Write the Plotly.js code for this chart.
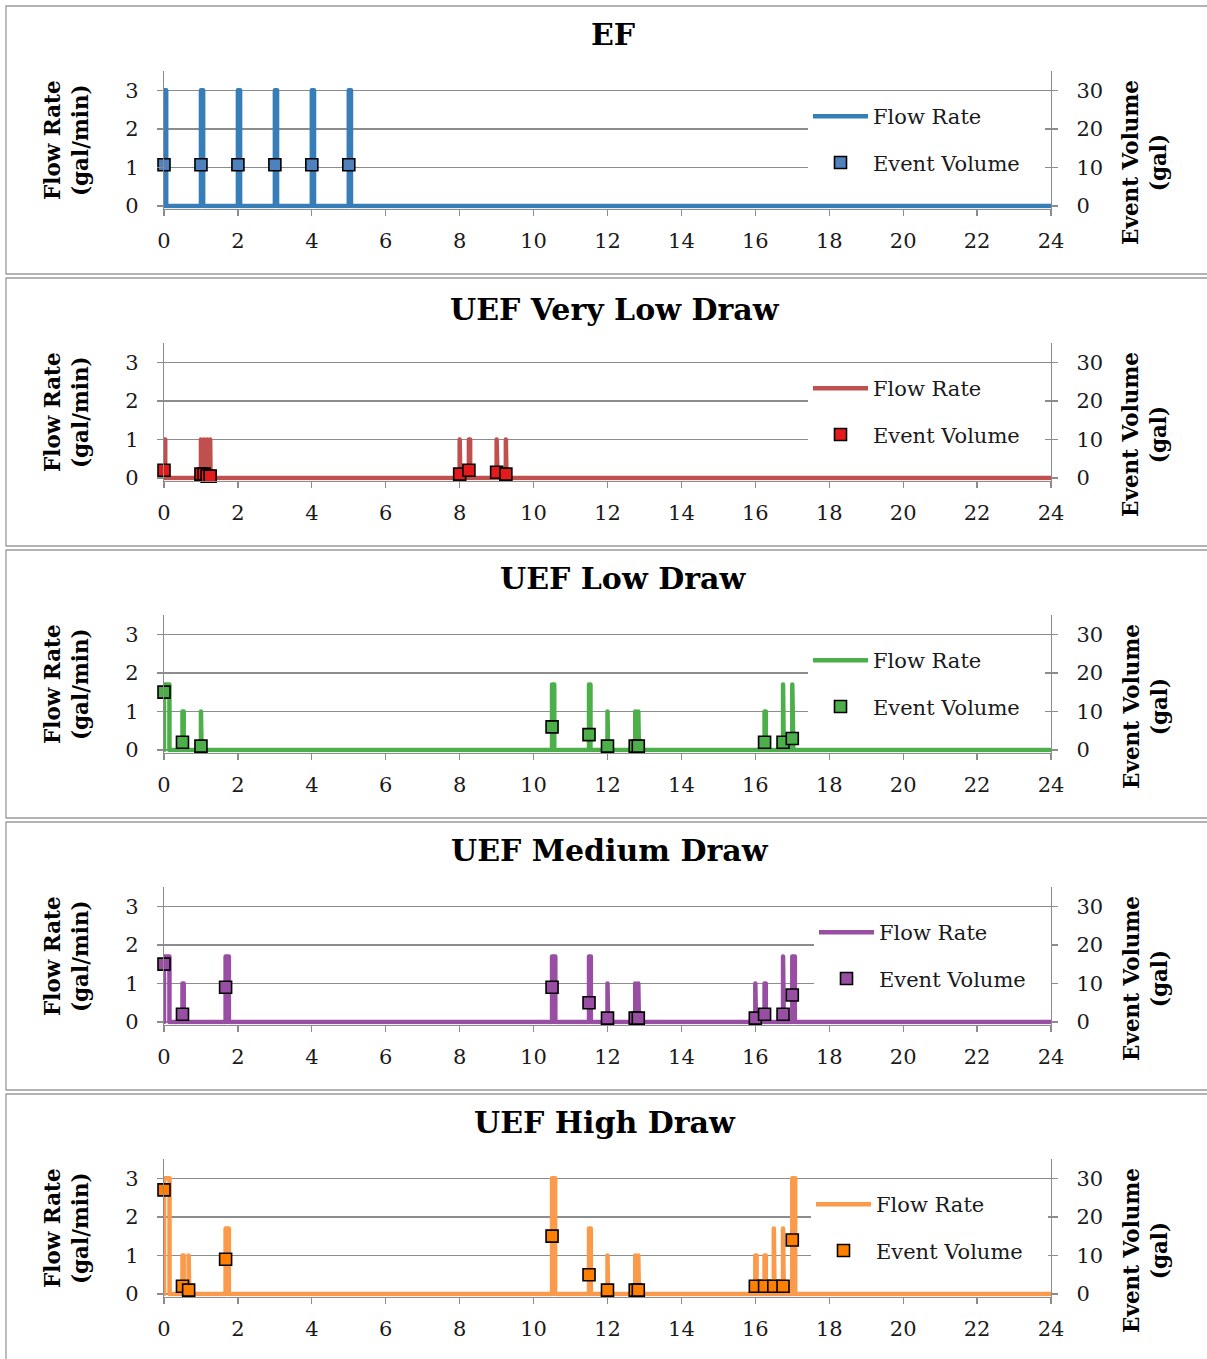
<!DOCTYPE html>
<html>
<head>
<meta charset="utf-8">
<script src="https://cdn.plot.ly/plotly-3.0.1.min.js"></script>
<style>
html,body{margin:0;padding:0;background:#fff;}
#chart{width:1207px;height:1359px;}
.scatterlayer .js-line{stroke-linejoin:round;stroke-linecap:round;}
</style>
</head>
<body>
<div id="chart"></div>
<script>
// ---------- DATA ----------
const panelTitles = ['EF', 'UEF Very Low Draw', 'UEF Low Draw', 'UEF Medium Draw', 'UEF High Draw'];
const hourTicks = [0, 2, 4, 6, 8, 10, 12, 14, 16, 18, 20, 22, 24];
const flowTicks = [0, 1, 2, 3];
const volumeTicks = [0, 10, 20, 30];

// draw start time (h), event volume (gal), flow rate (gal/min)
const efStart  = [0, 1, 2, 3, 4, 5];
const efVolume = [10.7, 10.7, 10.7, 10.7, 10.7, 10.7];
const efRate   = [3, 3, 3, 3, 3, 3];

const vlStart  = [0, 1.0, 1.0833, 1.1667, 1.25, 8.0, 8.25, 9.0, 9.25];
const vlVolume = [2.0, 1.0, 1.0, 0.5, 0.5, 1.0, 2.0, 1.5, 1.0];
const vlRate   = [1, 1, 1, 1, 1, 1, 1, 1, 1];

const loStart  = [0, 0.5, 1.0, 10.5, 11.5, 12.0, 12.75, 12.8333, 16.25, 16.75, 17.0];
const loVolume = [15.0, 2.0, 1.0, 6.0, 4.0, 1.0, 1.0, 1.0, 2.0, 2.0, 3.0];
const loRate   = [1.7, 1.0, 1.0, 1.7, 1.7, 1.0, 1.0, 1.0, 1.0, 1.7, 1.7];

const mdStart  = [0, 0.5, 1.6667, 10.5, 11.5, 12.0, 12.75, 12.8333, 16.0, 16.25, 16.75, 17.0];
const mdVolume = [15.0, 2.0, 9.0, 9.0, 5.0, 1.0, 1.0, 1.0, 1.0, 2.0, 2.0, 7.0];
const mdRate   = [1.7, 1.0, 1.7, 1.7, 1.7, 1.0, 1.0, 1.0, 1.0, 1.0, 1.7, 1.7];

const hiStart  = [0, 0.5, 0.6667, 1.6667, 10.5, 11.5, 12.0, 12.75, 12.8333, 16.0, 16.25, 16.5, 16.75, 17.0];
const hiVolume = [27.0, 2.0, 1.0, 9.0, 15.0, 5.0, 1.0, 1.0, 1.0, 2.0, 2.0, 2.0, 2.0, 14.0];
const hiRate   = [3.0, 1.0, 1.0, 1.7, 3.0, 1.7, 1.0, 1.0, 1.0, 1.0, 1.0, 1.7, 1.7, 3.0];

const seriesNames = ['Flow Rate', 'Event Volume'];

// ---------- STYLE ----------
const W = 1207, H = 1359;
const fx = p => p / W;
const fy = p => (H - p) / H;
const lineColors   = ['#377EB8', '#C0504D', '#4DAF4A', '#984EA3', '#FA9A4A'];
const markerColors = ['#4F81BD', '#E41A1C', '#4DAF4A', '#984EA3', '#FF7F00'];
const FONT = 'DejaVu Serif';
const GRAY = '#8c8c8c';
const panels = [
  {s: efStart, v: efVolume, r: efRate},
  {s: vlStart, v: vlVolume, r: vlRate},
  {s: loStart, v: loVolume, r: loRate},
  {s: mdStart, v: mdVolume, r: mdRate},
  {s: hiStart, v: hiVolume, r: hiRate}
];
const zeroPx = [206, 478, 750, 1022, 1294];
const pxPerUnit = 38.67;      // flow-axis pixels per gal/min
const padBelow = 2.6;         // px of room below zero so the thick baseline is not clipped
const titleX = [613, 615, 623, 610, 605];
const titleY = [34, 309, 578, 850, 1122];
const legendLeft = [808, 808, 808, 814, 811];
const frameTop = [6, 278, 550, 822, 1094];
const frameBot = [274, 546, 818, 1090, 1366];
const legendPad = '\u00a0\u00a0\u00a0'; // widens the white legend box

function stepLine(starts, vols, rates) {
  const x = [0], y = [0];
  for (let i = 0; i < starts.length; i++) {
    const d = vols[i] / rates[i] / 60; // duration in hours
    x.push(starts[i], starts[i], starts[i] + d, starts[i] + d);
    y.push(0, rates[i], rates[i], 0);
  }
  x.push(24); y.push(0);
  return {x, y};
}

const traces = [];
const layout = {
  width: W, height: H,
  margin: {l: 0, r: 0, t: 0, b: 0},
  paper_bgcolor: '#fff', plot_bgcolor: 'rgba(0,0,0,0)',
  showlegend: true,
  font: {family: FONT, size: 21, color: '#1a1a1a'},
  shapes: [], annotations: []
};

const lowFlow = -padBelow / pxPerUnit;
const lowVol = lowFlow * 10;

panels.forEach((p, i) => {
  const n = i + 1, nr = i + 6;
  const xa = 'x' + (n === 1 ? '' : n), ya = 'y' + (n === 1 ? '' : n), yr = 'y' + nr;
  const lg = 'legend' + (n === 1 ? '' : n);
  const sl = stepLine(p.s, p.v, p.r);
  traces.push({
    type: 'scatter', mode: 'lines', x: sl.x, y: sl.y, xaxis: xa, yaxis: ya,
    name: seriesNames[0], legend: lg, legendgroup: 'f' + n, cliponaxis: false,
    line: {color: lineColors[i], width: 4.5}, hoverinfo: 'skip'
  });
  traces.push({
    type: 'scatter', mode: 'markers', x: p.s, y: p.v, xaxis: xa, yaxis: yr,
    name: seriesNames[1] + legendPad, legend: lg, legendgroup: 'v' + n, cliponaxis: false,
    marker: {symbol: 'square', size: 12, color: markerColors[i], line: {color: '#000', width: 1.6}}
  });
  const y0 = zeroPx[i];
  const axCommon = {
    showline: true, linecolor: GRAY, linewidth: 1.3, ticks: 'outside', ticklen: 6,
    tickcolor: GRAY, tickwidth: 1.3, zeroline: false, fixedrange: true,
    tickfont: {family: FONT, size: 21, color: '#1a1a1a'}
  };
  layout['xaxis' + (n === 1 ? '' : n)] = Object.assign({}, axCommon, {
    domain: [fx(164), fx(1051)], anchor: ya, range: [0, 24],
    tickmode: 'array', tickvals: hourTicks, ticktext: hourTicks.map(String),
    showgrid: false, ticklabelstandoff: 7
  });
  layout['yaxis' + (n === 1 ? '' : n)] = Object.assign({}, axCommon, {
    domain: [fy(y0 + padBelow), fy(y0 - 135)], anchor: xa, range: [lowFlow, 3.5],
    tickmode: 'array', tickvals: flowTicks, ticktext: flowTicks.map(String),
    showgrid: true, gridcolor: GRAY, gridwidth: 1.3, ticklabelstandoff: 14
  });
  layout['yaxis' + nr] = Object.assign({}, axCommon, {
    overlaying: ya, side: 'right', anchor: xa, range: [lowVol, 35],
    tickmode: 'array', tickvals: volumeTicks, ticktext: volumeTicks.map(String),
    showgrid: false, ticklabelstandoff: 14
  });
  layout[lg] = {
    x: fx(legendLeft[i]), xanchor: 'left', y: fy(y0 - 110), yanchor: 'top',
    bgcolor: '#fff', borderwidth: 0, traceorder: 'grouped', tracegroupgap: 16,
    itemwidth: 55, font: {family: FONT, size: 21, color: '#1a1a1a'}
  };
  layout.shapes.push({
    type: 'rect', xref: 'paper', yref: 'paper', x0: fx(6), x1: fx(1215),
    y0: fy(frameBot[i]), y1: fy(frameTop[i]), line: {color: '#9a9a9a', width: 1.3}, layer: 'below'
  });
  layout.annotations.push({
    text: '<b>' + panelTitles[i] + '</b>', xref: 'paper', yref: 'paper',
    x: fx(titleX[i]), y: fy(titleY[i]), xanchor: 'center', yanchor: 'middle', showarrow: false,
    font: {family: FONT, size: 30, color: '#000'}
  });
  layout.annotations.push({
    text: '<b>Flow Rate<br>(gal/min)</b>', xref: 'paper', yref: 'paper', textangle: -90,
    x: fx(66), y: fy(y0 - 66), xanchor: 'center', yanchor: 'middle', showarrow: false,
    font: {family: FONT, size: 21.5, color: '#000'}
  });
  layout.annotations.push({
    text: '<b>Event Volume<br>(gal)</b>', xref: 'paper', yref: 'paper', textangle: -90,
    x: fx(1145), y: fy(y0 - 43), xanchor: 'center', yanchor: 'middle', showarrow: false,
    font: {family: FONT, size: 21.5, color: '#000'}
  });
});

Plotly.newPlot('chart', traces, layout, {displayModeBar: false, staticPlot: true});
</script>
</body>
</html>
